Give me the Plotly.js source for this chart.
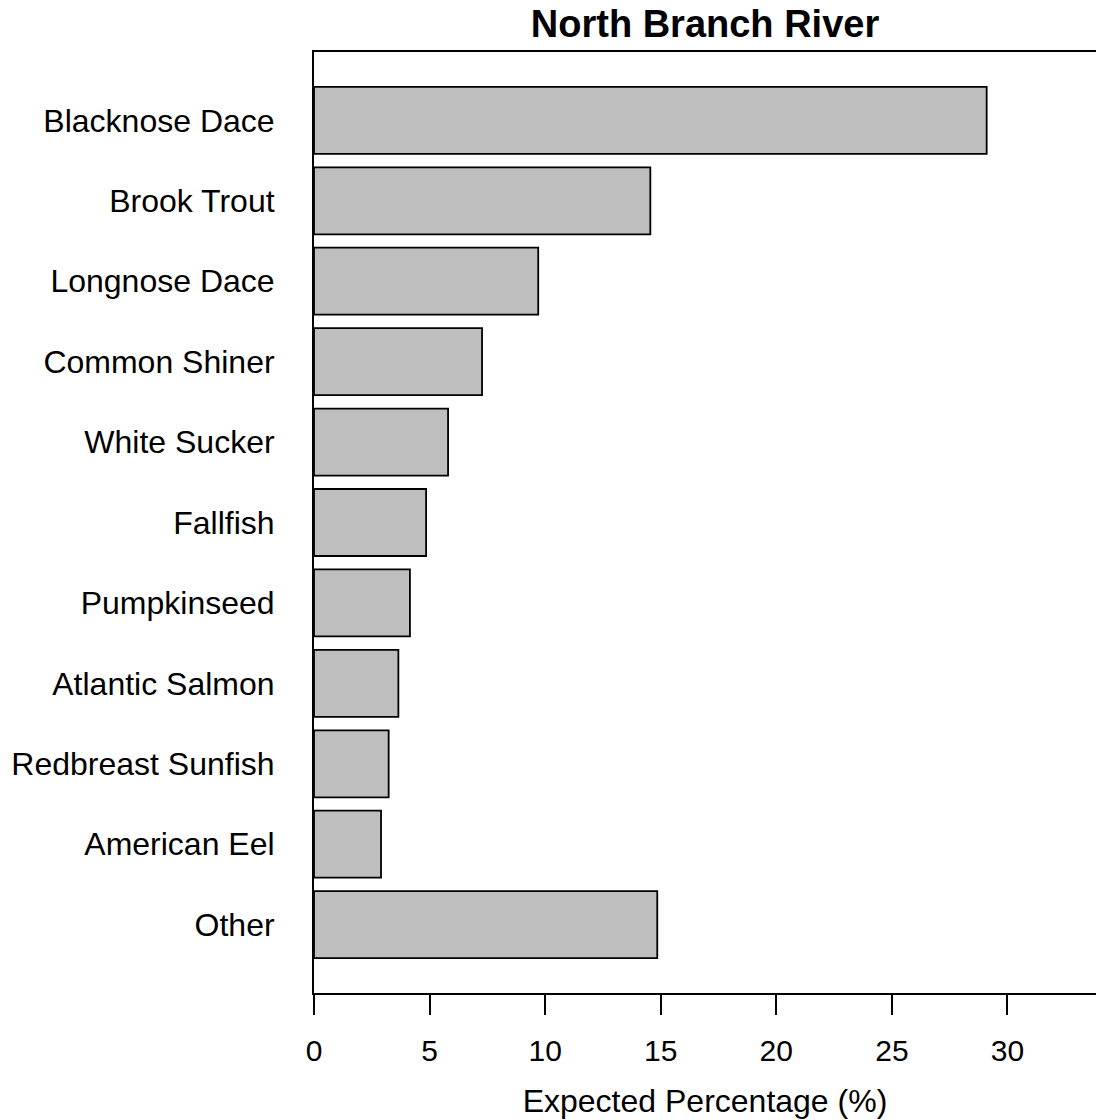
<!DOCTYPE html>
<html>
<head>
<meta charset="utf-8">
<script src="https://cdn.plot.ly/plotly-3.0.1.min.js"></script>
<style>
html,body{margin:0;padding:0;background:#fff;}
#chart{width:1096px;height:1120px;}
</style>
</head>
<body>
<div id="chart"></div>
<script>
const species = ["Blacknose Dace","Brook Trout","Longnose Dace","Common Shiner","White Sucker","Fallfish","Pumpkinseed","Atlantic Salmon","Redbreast Sunfish","American Eel","Other"];
const expectedPct = [29.1, 14.55, 9.7, 7.27, 5.8, 4.85, 4.15, 3.65, 3.23, 2.9, 14.85];
const xTicks = [0, 5, 10, 15, 20, 25, 30];

const FONT = "Liberation Sans, Arial, sans-serif";

const trace = {
  type: "bar",
  orientation: "h",
  y: species,
  x: expectedPct,
  width: 0.833,
  marker: {color: "#BEBEBE", line: {color: "#000", width: 1.8}},
  hoverinfo: "x+y"
};

const layout = {
  width: 1096,
  height: 1120,
  margin: {l: 314, r: 0, t: 52, b: 127},
  paper_bgcolor: "#fff",
  plot_bgcolor: "#fff",
  showlegend: false,
  font: {family: FONT, size: 30, color: "#000"},
  title: {
    text: "<b>North Branch River</b>",
    font: {family: FONT, size: 38, color: "#000"},
    x: 0.5, xref: "paper", xanchor: "center",
    y: 1 - 24/1120, yref: "container", yanchor: "middle"
  },
  xaxis: {
    range: [0, 33.83],
    tickmode: "array",
    tickvals: xTicks,
    ticktext: xTicks.map(String),
    ticks: "outside",
    ticklen: 20,
    tickwidth: 2,
    tickcolor: "#000",
    showline: true,
    linecolor: "#000",
    linewidth: 2,
    mirror: true,
    showgrid: false,
    zeroline: false,
    tickfont: {family: FONT, size: 30, color: "#000"},
    ticklabelstandoff: 10,
    title: {text: "Expected Percentage (%)", font: {family: FONT, size: 32, color: "#000"}, standoff: 24}
  },
  yaxis: {
    type: "category",
    range: [10.85, -0.85],
    ticks: "outside",
    ticklen: 31,
    tickcolor: "rgba(0,0,0,0)",
    showline: true,
    linecolor: "#000",
    linewidth: 2,
    mirror: false,
    showgrid: false,
    zeroline: false,
    tickfont: {family: FONT, size: 32, color: "#000"}
  }
};

Plotly.newPlot("chart", [trace], layout, {displayModeBar: false, staticPlot: true});
</script>
</body>
</html>
